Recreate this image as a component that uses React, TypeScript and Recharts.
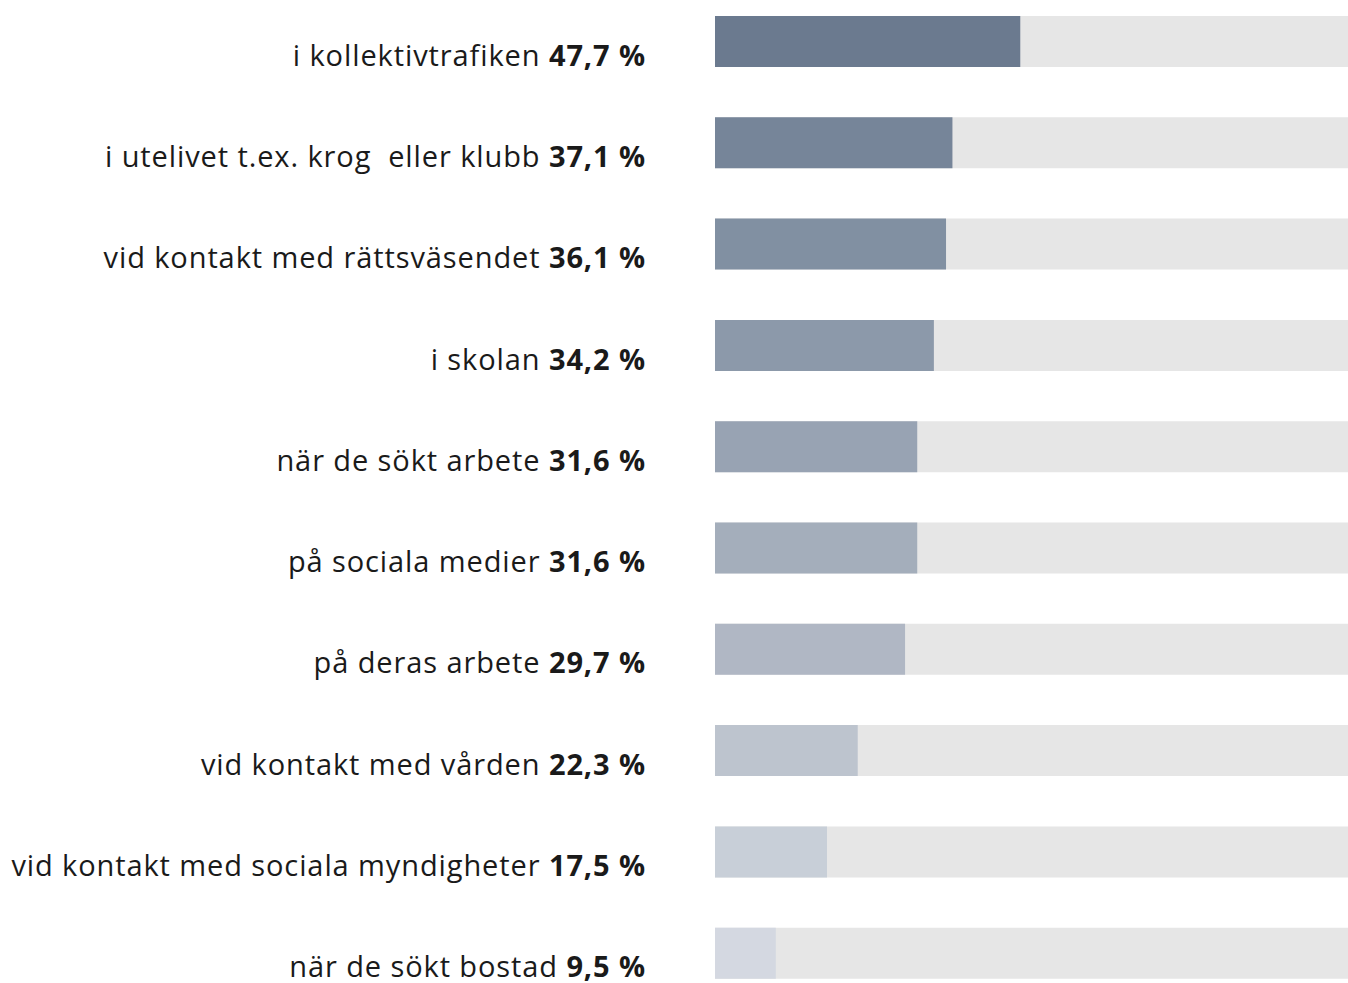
import React from 'react';
import { Bar, BarChart, Cell, XAxis, YAxis } from 'recharts';

const categories = [
  'i kollektivtrafiken',
  'i utelivet t.ex. krog  eller klubb',
  'vid kontakt med rättsväsendet',
  'i skolan',
  'när de sökt arbete',
  'på sociala medier',
  'på deras arbete',
  'vid kontakt med vården',
  'vid kontakt med sociala myndigheter',
  'när de sökt bostad',
];

const values = [47.7, 37.1, 36.1, 34.2, 31.6, 31.6, 29.7, 22.3, 17.5, 9.5];

const colors = [
  '#6b7a8f',
  '#768599',
  '#8190a2',
  '#8c99aa',
  '#98a3b3',
  '#a4aebb',
  '#b0b7c4',
  '#bdc4ce',
  '#c8cfd8',
  '#d4d8e1',
];

const data = categories.map((name, i) => ({ name, value: values[i] }));

const fmt = (v: number) => v.toFixed(1).replace('.', ',');

const LabelTick = (props: any) => {
  const { y, payload, index } = props;
  return (
    <text
      x={646}
      y={y + 24}
      textAnchor="end"
      fontSize={29}
      letterSpacing={0.9}
      fontFamily="Open Sans"
      fill="#1a1a1a"
      style={{ whiteSpace: 'pre' }}
    >
      <tspan>{payload.value} </tspan>
      <tspan fontWeight={700}>{fmt(values[index])} %</tspan>
    </text>
  );
};

const App = () => {
  return (
    <div
      style={{
        position: 'fixed',
        top: 0,
        left: 0,
        width: 1348,
        height: 983,
        overflow: 'hidden',
        background: '#fff',
      }}
    >
      <div style={{ position: 'absolute', top: -9, left: 0 }}>
        <BarChart
          width={1355}
          height={1013}
          data={data}
          layout="vertical"
          margin={{ top: 0, right: 0, bottom: 0, left: 0 }}
        >
          <XAxis type="number" domain={[0, 100]} hide />
          <YAxis
            type="category"
            dataKey="name"
            width={715}
            tickLine={false}
            axisLine={false}
            interval={0}
            tick={<LabelTick />}
          />
          <Bar
            dataKey="value"
            barSize={51}
            background={{ fill: '#e6e6e6' }}
            isAnimationActive={false}
          >
            {data.map((d, i) => (
              <Cell key={d.name} fill={colors[i]} />
            ))}
          </Bar>
        </BarChart>
      </div>
    </div>
  );
};

export default App;
